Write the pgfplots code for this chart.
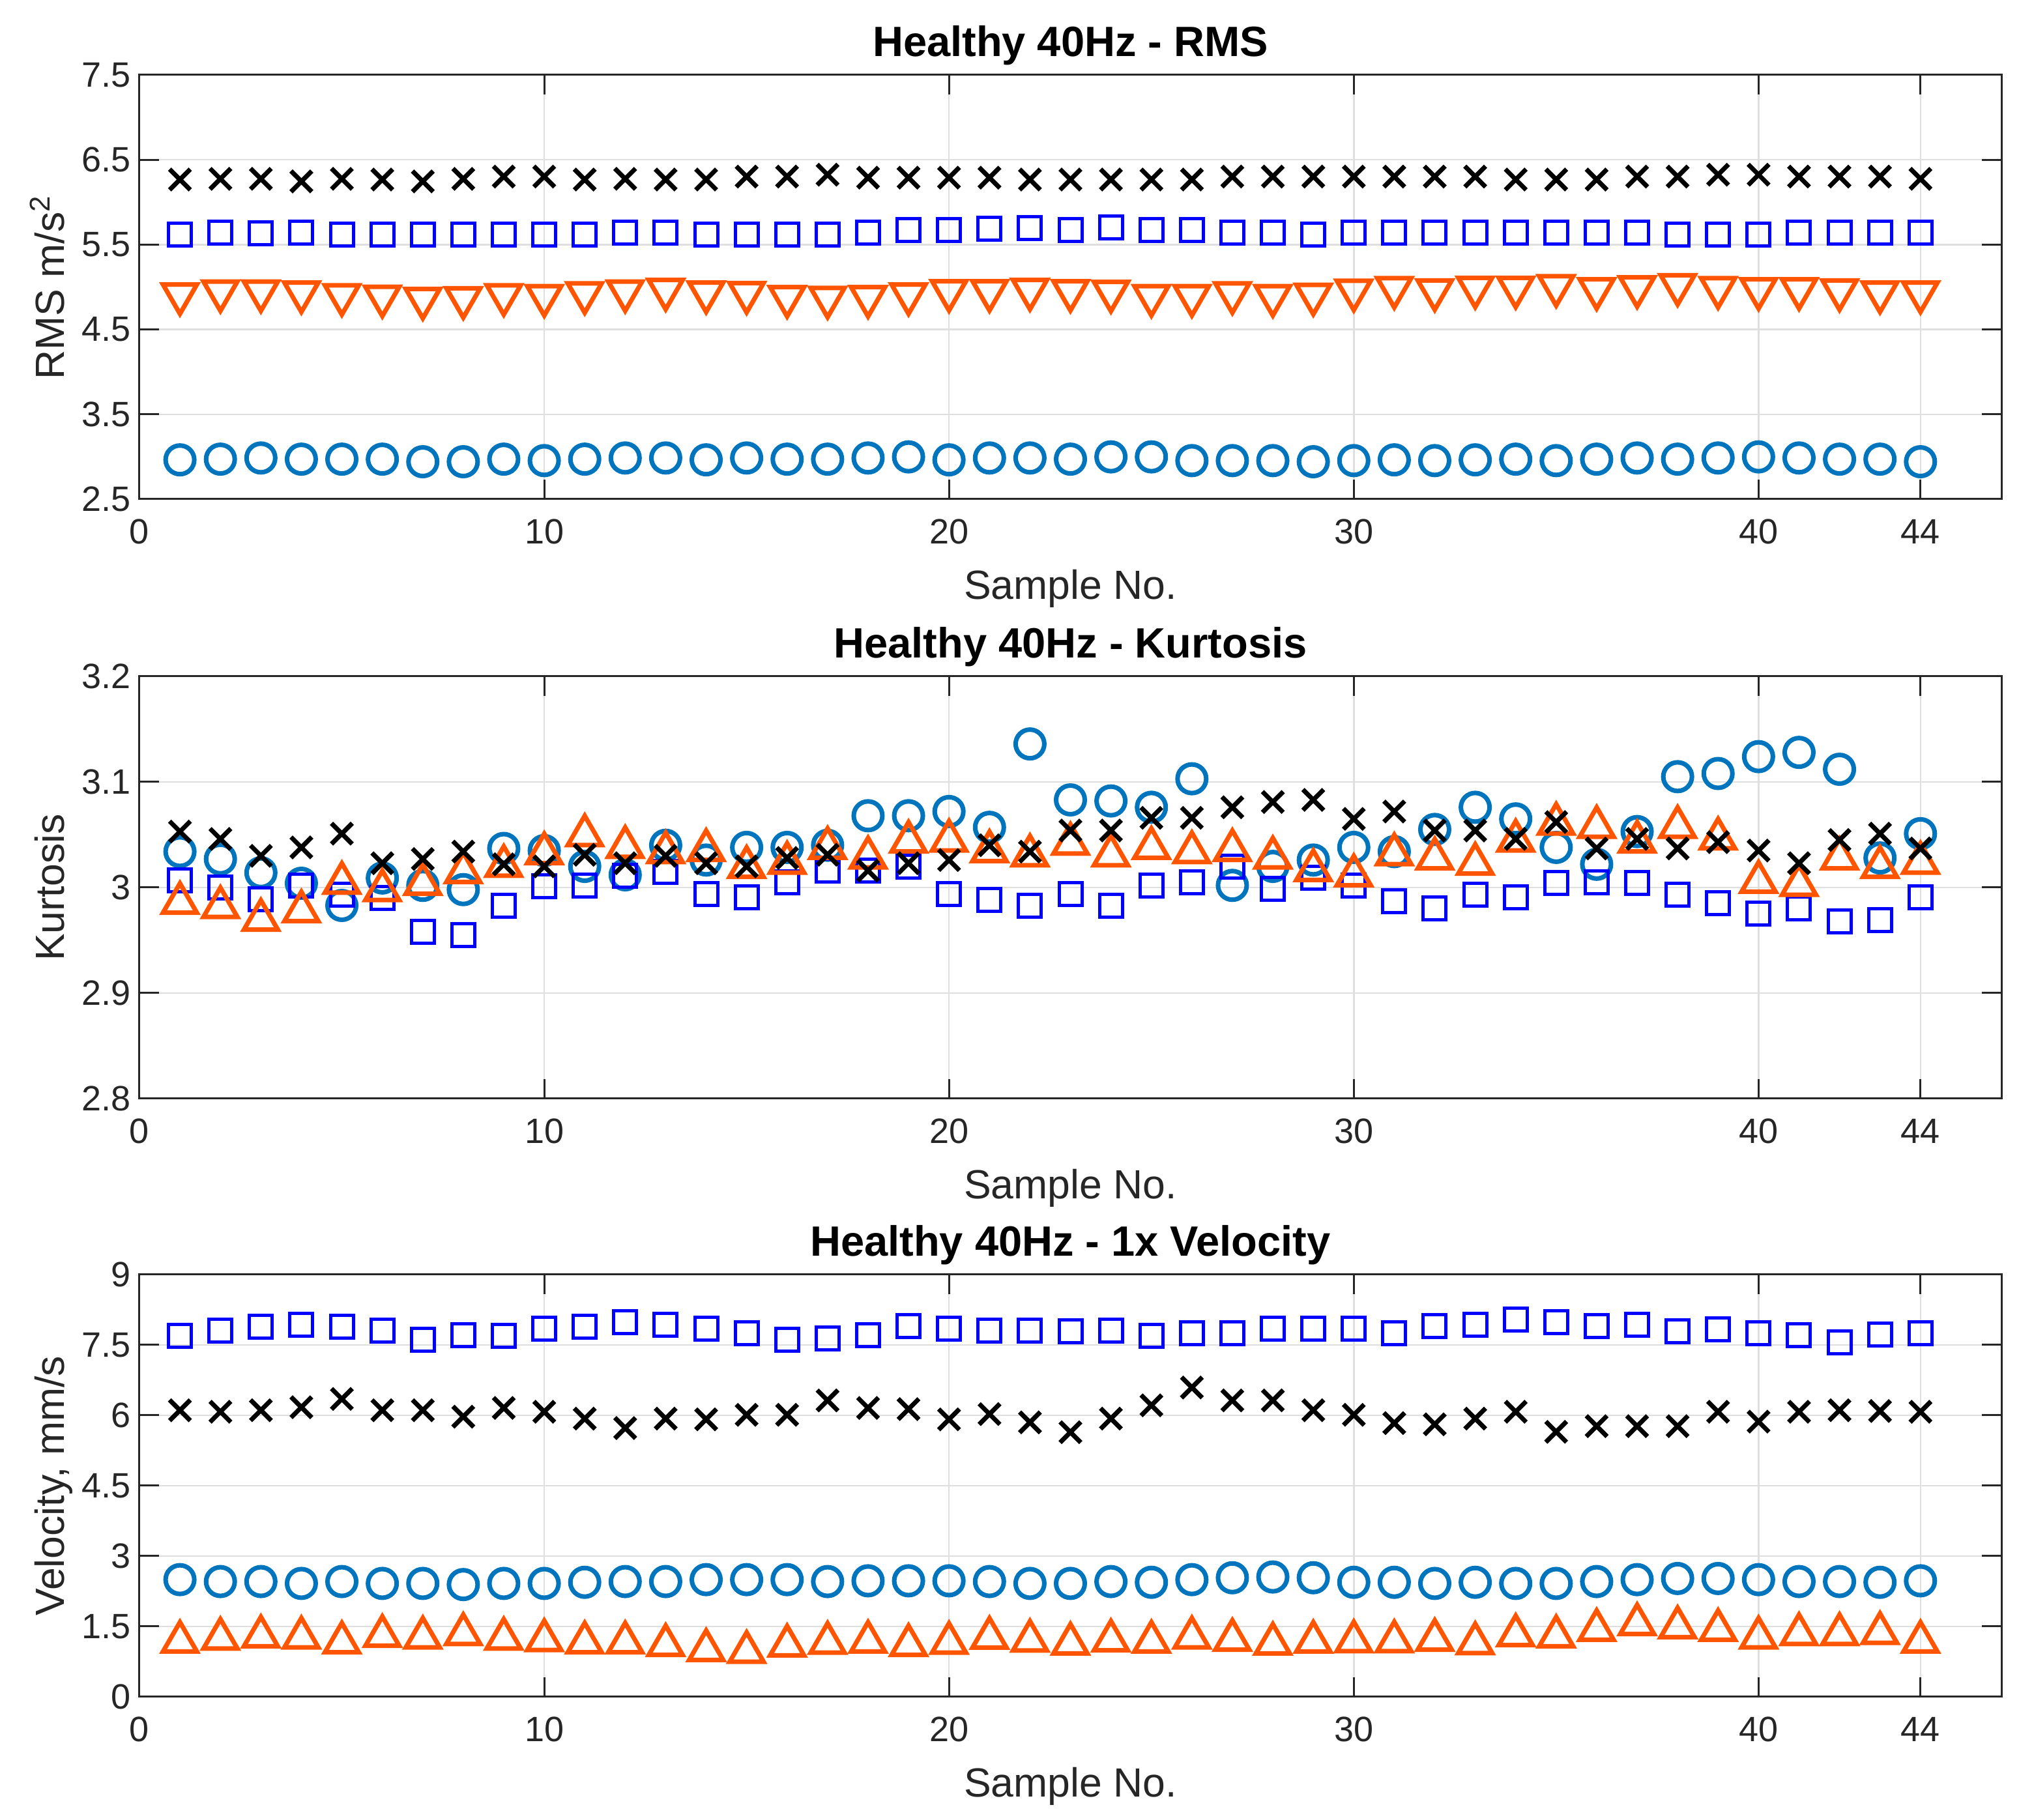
\documentclass[border=0pt]{standalone}
\usepackage{pgfplots}
\pgfplotsset{compat=1.18}
\usepackage{pgfplotstable}
\usepackage{fontspec}
\setmainfont{Liberation Sans}

\definecolor{axc}{RGB}{38,38,38}
\definecolor{gridc}{RGB}{223,223,223}
\definecolor{circc}{RGB}{0,116,189}
\definecolor{sqc}{RGB}{0,0,255}
\definecolor{trc}{RGB}{255,85,0}

\newcommand\ticksize{\fontsize{10.8}{12}\selectfont}
\newcommand\labsize{\fontsize{12.5}{14}\selectfont}
\newcommand\titsize{\fontsize{13}{15}\selectfont}

% n = sample, c = circles, s = squares, t = triangles, x = crosses
\pgfplotstableread{
n c s t x
1 2.963 5.615 4.857 6.267
2 2.971 5.641 4.892 6.275
3 2.985 5.632 4.892 6.275
4 2.971 5.641 4.879 6.245
5 2.971 5.615 4.848 6.275
6 2.971 5.615 4.830 6.267
7 2.941 5.615 4.804 6.245
8 2.941 5.615 4.813 6.275
9 2.971 5.615 4.848 6.302
10 2.954 5.615 4.837 6.302
11 2.971 5.615 4.870 6.267
12 2.985 5.641 4.892 6.275
13 2.985 5.641 4.910 6.267
14 2.963 5.615 4.879 6.267
15 2.985 5.615 4.874 6.302
16 2.971 5.615 4.826 6.302
17 2.971 5.615 4.817 6.324
18 2.985 5.641 4.826 6.289
19 2.998 5.672 4.857 6.289
20 2.963 5.672 4.896 6.289
21 2.985 5.690 4.896 6.289
22 2.985 5.694 4.910 6.267
23 2.971 5.672 4.896 6.267
24 2.998 5.703 4.888 6.267
25 2.998 5.672 4.837 6.267
26 2.954 5.672 4.837 6.267
27 2.954 5.641 4.870 6.302
28 2.954 5.641 4.837 6.302
29 2.941 5.615 4.852 6.302
30 2.954 5.641 4.901 6.302
31 2.963 5.641 4.932 6.302
32 2.954 5.641 4.905 6.302
33 2.963 5.641 4.936 6.302
34 2.971 5.641 4.936 6.267
35 2.954 5.641 4.954 6.267
36 2.971 5.641 4.919 6.267
37 2.985 5.641 4.941 6.302
38 2.971 5.615 4.967 6.302
39 2.985 5.615 4.932 6.324
40 2.998 5.615 4.919 6.324
41 2.985 5.641 4.919 6.302
42 2.971 5.641 4.905 6.302
43 2.971 5.641 4.879 6.302
44 2.941 5.641 4.879 6.275
}\rmsdata

\pgfplotstableread{
n c s t x
1 3.034 3.007 2.990 3.053
2 3.027 3.000 2.986 3.046
3 3.014 2.989 2.974 3.030
4 3.004 3.002 2.982 3.038
5 2.983 2.993 3.009 3.051
6 3.009 2.990 3.002 3.023
7 3.002 2.958 3.008 3.027
8 2.998 2.955 3.019 3.034
9 3.037 2.983 3.025 3.022
10 3.035 3.001 3.037 3.020
11 3.020 3.002 3.054 3.031
12 3.012 3.011 3.043 3.023
13 3.040 3.015 3.038 3.030
14 3.026 2.994 3.040 3.023
15 3.038 2.991 3.024 3.020
16 3.038 3.005 3.028 3.028
17 3.040 3.016 3.042 3.031
18 3.068 3.016 3.033 3.016
19 3.068 3.020 3.048 3.023
20 3.072 2.994 3.049 3.026
21 3.057 2.988 3.039 3.040
22 3.136 2.983 3.035 3.034
23 3.083 2.994 3.046 3.054
24 3.082 2.983 3.035 3.054
25 3.076 3.002 3.042 3.066
26 3.103 3.005 3.038 3.066
27 3.002 3.020 3.040 3.076
28 3.020 2.999 3.033 3.081
29 3.026 3.009 3.021 3.083
30 3.038 3.002 3.016 3.065
31 3.034 2.987 3.036 3.072
32 3.055 2.980 3.032 3.054
33 3.076 2.993 3.027 3.054
34 3.065 2.991 3.049 3.046
35 3.038 3.004 3.065 3.062
36 3.022 3.005 3.062 3.037
37 3.053 3.004 3.048 3.046
38 3.105 2.993 3.062 3.037
39 3.108 2.985 3.051 3.043
40 3.124 2.975 3.010 3.035
41 3.128 2.980 3.007 3.023
42 3.112 2.968 3.032 3.045
43 3.028 2.969 3.024 3.051
44 3.051 2.991 3.028 3.037
}\kurtdata

\pgfplotstableread{
n c s t x
1 2.498 7.691 1.278 6.108
2 2.457 7.805 1.343 6.076
3 2.457 7.885 1.391 6.108
4 2.417 7.934 1.367 6.173
5 2.457 7.885 1.262 6.350
6 2.417 7.805 1.399 6.108
7 2.417 7.611 1.367 6.108
8 2.393 7.708 1.439 5.971
9 2.417 7.691 1.343 6.157
10 2.417 7.853 1.310 6.076
11 2.441 7.885 1.262 5.930
12 2.457 7.990 1.262 5.729
13 2.457 7.934 1.205 5.930
14 2.498 7.853 1.100 5.914
15 2.498 7.748 1.060 6.011
16 2.498 7.611 1.197 6.011
17 2.457 7.643 1.254 6.318
18 2.473 7.708 1.278 6.157
19 2.473 7.909 1.205 6.132
20 2.473 7.853 1.254 5.914
21 2.457 7.805 1.363 6.027
22 2.417 7.805 1.300 5.850
23 2.417 7.788 1.237 5.640
24 2.457 7.805 1.302 5.930
25 2.441 7.691 1.278 6.213
26 2.498 7.748 1.367 6.593
27 2.538 7.748 1.318 6.318
28 2.554 7.853 1.237 6.318
29 2.538 7.853 1.278 6.108
30 2.441 7.853 1.286 6.011
31 2.441 7.748 1.286 5.834
32 2.417 7.909 1.318 5.809
33 2.441 7.934 1.245 5.930
34 2.417 8.047 1.415 6.076
35 2.417 7.990 1.391 5.648
36 2.457 7.909 1.528 5.769
37 2.498 7.934 1.649 5.769
38 2.522 7.788 1.585 5.769
39 2.522 7.829 1.528 6.076
40 2.498 7.748 1.367 5.866
41 2.457 7.708 1.439 6.076
42 2.457 7.562 1.439 6.108
43 2.441 7.724 1.464 6.092
44 2.473 7.748 1.278 6.076
}\veldata

\pgfplotsset{
  panel/.style={
    scale only axis, width=571.4pt,
    xmin=0, xmax=46,
    xtick={0,10,20,30,40,44}, xticklabels={0,10,20,30,40,44},
    tick align=inside, tick pos=both, major tick length=6pt,
    grid=major, grid style={line width=0.5pt, draw=gridc},
    axis line style={line width=0.6pt, draw=axc},
    major tick style={line width=0.6pt, draw=axc},
    tick label style={font=\ticksize, text=axc},
    xticklabel style={anchor=base, inner sep=0pt, yshift=-13.8pt},
    yticklabel style={anchor=east, inner sep=0pt, xshift=-2.4pt},
    title style={at={(0.5,1)}, anchor=base, yshift=-0.4pt, font=\titsize\bfseries},
    xlabel style={at={(axis description cs:0.5,0)}, anchor=base, yshift=-30.8pt, font=\labsize, text=axc},
    ylabel style={at={(axis description cs:-0.0405,0.5)}, anchor=base, font=\labsize, text=axc},
    xlabel={Sample No.},
  },
  circs/.style={only marks, mark=o, mark size=4.4pt, draw=circc, mark options={line width=1.4pt}},
  sqs/.style={only marks, mark=square, mark size=3.5pt, draw=sqc, mark options={line width=1.0pt}},
  tris/.style={only marks, mark=triangle, mark size=6pt, draw=trc, mark options={line width=1.4pt, yshift=-1.5pt}},
  dtris/.style={only marks, mark=triangle, mark size=6pt, draw=trc, mark options={line width=1.4pt, yshift=1.5pt, rotate=180}},
  crs/.style={only marks, mark=x, mark size=4.5pt, draw=black, mark options={line width=1.4pt}},
}

\begin{document}
\begin{tikzpicture}
\useasboundingbox (0,0) rectangle (624.2pt,558.6pt);

\begin{axis}[panel, at={(42.8pt,405.4pt)}, anchor=south west, height=130.2pt,
  ymin=2.5, ymax=7.5, ytick={2.5,3.5,4.5,5.5,6.5,7.5}, yticklabels={2.5,3.5,4.5,5.5,6.5,7.5},
  title={Healthy 40Hz - RMS}, ylabel={RMS  m/s\textsuperscript{2}}]
\addplot[circs] table[x=n, y=c] {\rmsdata};
\addplot[sqs] table[x=n, y=s] {\rmsdata};
\addplot[dtris] table[x=n, y=t] {\rmsdata};
\addplot[crs] table[x=n, y=x] {\rmsdata};
\end{axis}

\begin{axis}[panel, at={(42.8pt,221.4pt)}, anchor=south west, height=129.6pt,
  ymin=2.8, ymax=3.2, ytick={2.8,2.9,3,3.1,3.2}, yticklabels={2.8,2.9,3,3.1,3.2},
  title={Healthy 40Hz - Kurtosis}, ylabel={Kurtosis}]
\addplot[circs] table[x=n, y=c] {\kurtdata};
\addplot[sqs] table[x=n, y=s] {\kurtdata};
\addplot[tris] table[x=n, y=t] {\kurtdata};
\addplot[crs] table[x=n, y=x] {\kurtdata};
\end{axis}

\begin{axis}[panel, at={(42.8pt,37.8pt)}, anchor=south west, height=129.6pt,
  ymin=0, ymax=9, ytick={0,1.5,3,4.5,6,7.5,9}, yticklabels={0,1.5,3,4.5,6,7.5,9},
  title={Healthy 40Hz - 1x Velocity}, ylabel={Velocity, mm/s}]
\addplot[circs] table[x=n, y=c] {\veldata};
\addplot[sqs] table[x=n, y=s] {\veldata};
\addplot[tris] table[x=n, y=t] {\veldata};
\addplot[crs] table[x=n, y=x] {\veldata};
\end{axis}
\end{tikzpicture}
\end{document}
